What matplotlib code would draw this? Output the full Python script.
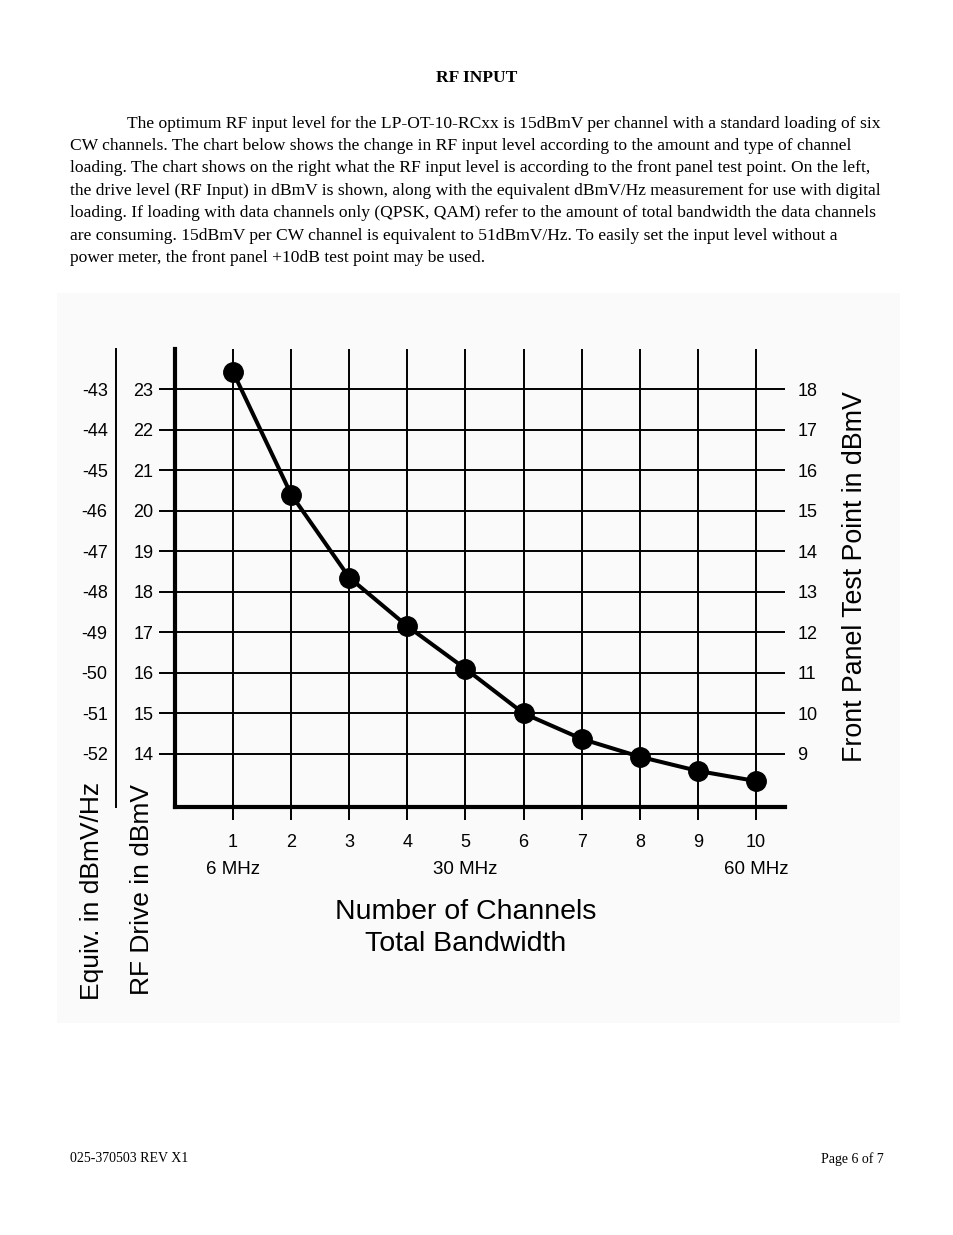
import matplotlib
matplotlib.use("Agg")
import matplotlib.pyplot as plt
from matplotlib.patches import Rectangle

# ---------------- data ----------------
channels = [1, 2, 3, 4, 5, 6, 7, 8, 9, 10]
rf_drive = [23.42, 20.40, 18.35, 17.15, 16.10, 15.00, 14.37, 13.93, 13.58, 13.33]
drive_ticks = [14, 15, 16, 17, 18, 19, 20, 21, 22, 23]
equiv_offset = -66      # dBmV/Hz = drive - 66
panel_offset = -5       # front panel test point = drive - 5
bandwidth_labels = [(1, "6 MHz"), (5, "30 MHz"), (10, "60 MHz")]

title = "RF INPUT"
body_lines = [
    "The optimum RF input level for the LP-OT-10-RCxx is 15dBmV per channel with a standard loading of six",
    "CW channels. The chart below shows the change in RF input level according to the amount and type of channel",
    "loading. The chart shows on the right what the RF input level is according to the front panel test point. On the left,",
    "the drive level (RF Input) in dBmV is shown, along with the equivalent dBmV/Hz measurement for use with digital",
    "loading. If loading with data channels only (QPSK, QAM) refer to the amount of total bandwidth the data channels",
    "are consuming. 15dBmV per CW channel is equivalent to 51dBmV/Hz. To easily set the input level without a",
    "power meter, the front panel +10dB test point may be used.",
]
footer_left = "025-370503 REV X1"
footer_right = "Page 6 of 7"

# ---------------- figure ----------------
W, H = 954, 1235
fig = plt.figure(figsize=(W / 100, H / 100), dpi=100)
fig.patch.set_facecolor("white")

SERIF = ["Liberation Serif", "DejaVu Serif"]
SANS = ["Liberation Sans", "DejaVu Sans"]


def fx(px):
    return px / W


def fy(py):
    return 1 - py / H


# light panel behind chart
fig.patches.append(Rectangle((fx(57), fy(1023)), fx(900) - fx(57), fy(293) - fy(1023),
                             transform=fig.transFigure, facecolor="#fafafa",
                             edgecolor="none", zorder=-10))

# document text
fig.text(fx(477), fy(78), title, ha="center", va="center", family=SERIF,
         fontsize=12.6, fontweight="bold")
line_y = [124, 146, 168, 191, 213, 236, 258]
for i, (ln, yy) in enumerate(zip(body_lines, line_y)):
    x0 = 127 if i == 0 else 70
    fig.text(fx(x0), fy(yy), ln, ha="left", va="center", family=SERIF, fontsize=12.6)
fig.text(fx(70), fy(1159), footer_left, ha="left", va="center", family=SERIF, fontsize=10)
fig.text(fx(884), fy(1159), footer_right, ha="right", va="center", family=SERIF, fontsize=10)

# ---------------- chart ----------------
L, R, T, B = 175, 785, 349, 807
TICK_FS = 13
ax = fig.add_axes([fx(L), fy(B), fx(R) - fx(L), fy(T) - fy(B)], zorder=5)
ax.set_facecolor("none")
ax.set_xlim(0, 10.5)
ax.set_ylim(12.69, 23.99)

ax.set_xticks(channels)
ax.set_xticklabels([str(c) for c in channels], family=SANS, fontsize=TICK_FS)
ax.set_yticks(drive_ticks)
ax.set_yticklabels([str(t) for t in drive_ticks], family=SANS, fontsize=TICK_FS)
ax.grid(True, color="black", linewidth=1.4)
ax.set_axisbelow(True)
ax.tick_params(axis="x", direction="out", length=9.5, width=1.4, pad=10)
ax.tick_params(axis="y", direction="out", length=11.5, width=1.4, pad=4)
for s in ["top", "right"]:
    ax.spines[s].set_visible(False)
for s in ["left", "bottom"]:
    ax.spines[s].set_linewidth(3)
    ax.spines[s].set_zorder(5)

ax.plot(channels, rf_drive, color="black", linewidth=2.9, marker="o",
        markersize=14, zorder=6, clip_on=False)

# equivalent dBmV/Hz axis (thin line further left)
sec_l = ax.secondary_yaxis((116 - L) / (R - L),
                           functions=(lambda y: y + equiv_offset, lambda y: y - equiv_offset))
sec_l.set_yticks([t + equiv_offset for t in drive_ticks])
sec_l.set_yticklabels([str(t + equiv_offset) for t in drive_ticks], family=SANS, fontsize=TICK_FS)
sec_l.tick_params(length=0, pad=6)
sec_l.spines["left"].set_linewidth(1.4)

# front panel axis on the right
sec_r = ax.secondary_yaxis("right",
                           functions=(lambda y: y + panel_offset, lambda y: y - panel_offset))
sec_r.set_yticks([t + panel_offset for t in drive_ticks])
sec_r.set_yticklabels([str(t + panel_offset) for t in drive_ticks], family=SANS, fontsize=TICK_FS)
sec_r.tick_params(length=0, pad=9)
sec_r.spines["right"].set_visible(False)

# bandwidth labels under channel numbers
for c, lab in bandwidth_labels:
    ax.annotate(lab, xy=(c, 0), xycoords=("data", "axes fraction"),
                xytext=(0, -(869 - B) * 0.72), textcoords="offset points",
                ha="center", va="center", family=SANS, fontsize=13.5)

fig.text(fx(466), fy(912), "Number of Channels", ha="center", va="center",
         family=SANS, fontsize=20.5)
fig.text(fx(466), fy(944), "Total Bandwidth", ha="center", va="center",
         family=SANS, fontsize=20.5)

fig.text(fx(92), fy(1000), "Equiv. in dBmV/Hz", rotation=90, ha="center", va="bottom",
         family=SANS, fontsize=19)
fig.text(fx(142), fy(995), "RF Drive in dBmV", rotation=90, ha="center", va="bottom",
         family=SANS, fontsize=19)
fig.text(fx(855), fy(577), "Front Panel Test Point in dBmV", rotation=90, ha="center",
         va="center", family=SANS, fontsize=19.3)

fig.savefig("out.png", dpi=100)
